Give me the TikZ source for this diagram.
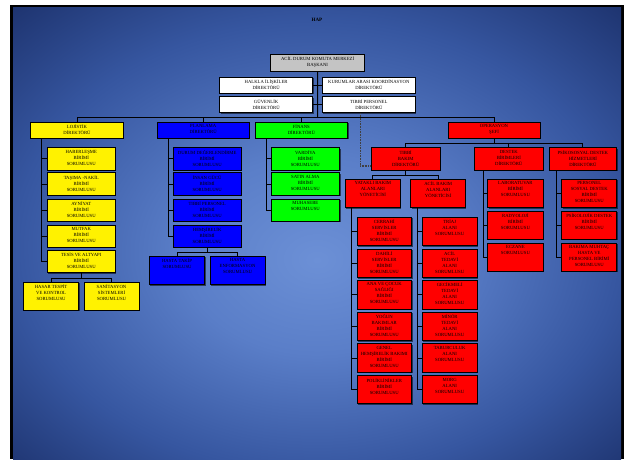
\documentclass[tikz,border=0pt]{standalone}
\usepackage{fontspec}
\setmainfont{Liberation Serif}
\usetikzlibrary{shadows,calc}
\definecolor{bgin}{RGB}{108,144,214}
\definecolor{bgin2}{RGB}{90,126,200}
\definecolor{bgmid}{RGB}{54,86,160}
\definecolor{bgout}{RGB}{30,52,112}
\definecolor{chiefgray}{RGB}{196,196,196}
\pgfdeclareradialshading{bgshade}{\pgfpoint{0bp}{-3bp}}{color(0bp)=(bgin); color(11bp)=(bgin2); color(25bp)=(bgmid); color(36bp)=(bgout); color(50bp)=(bgout)}
\newcommand\obox[7]{%
  \node[bx,#6,minimum width={#4-#2},minimum height={#5-#3}] (#1) at ({(#2+#4)/2},{(#3+#5)/2}) {};
  \node[bt] (#1t) at ([yshift=-2.6pt]#1.north) {#7};}
\begin{document}
\begin{tikzpicture}[x=1pt,y=-1pt,
  bx/.style={draw=black, line width=0.7pt, inner sep=0,
    drop shadow={shadow xshift=0.9pt, shadow yshift=-0.9pt, fill=black, opacity=0.55}},
  bt/.style={font=\fontsize{4.7}{6}\selectfont, align=center, inner sep=0, anchor=north, text=black},
  ln/.style={draw=black, line width=0.9pt},
  dl/.style={draw=black!75, line width=1.1pt, dash pattern=on 1pt off 0.6pt},
  yb/.style={fill=yellow}, bb/.style={fill=blue}, gb/.style={fill=green},
  rb/.style={fill=red}, wb/.style={fill=white}, cb/.style={fill=chiefgray, line width=1.4pt}]
\useasboundingbox (0,0) rectangle (624,459);
\fill[white] (0,0) rectangle (624,459);
\fill[black] (10,4.5) rectangle (624,459);
\shade[shading=bgshade] (13,7) rectangle (621,459);
\node[font=\bfseries\fontsize{5}{6}\selectfont, inner sep=0] (hap) at (317,20) {HAP};
% top
\obox{chief}{270.7}{54.3}{364.5}{71.3}{cb}{ACİL DURUM KOMUTA MERKEZİ\\BAŞKANI}
\obox{hal}{219.6}{77}{312.6}{93.3}{wb}{HALKLA İLİŞKİLER\\DİREKTÖRÜ}
\obox{kur}{322.5}{77}{415.2}{93.3}{wb}{KURUMLAR ARASI KOORDİNASYON\\DİREKTÖRÜ}
\obox{guv}{219.6}{96.7}{312.6}{112.7}{wb}{GÜVENLİK\\DİREKTÖRÜ}
\obox{tpd}{322.5}{96.7}{415.2}{112.7}{wb}{TIBBİ PERSONEL\\DİREKTÖRÜ}
% directors
\obox{loj}{30.7}{122.3}{123.4}{138.3}{yb}{LOJİSTİK\\DİREKTÖRÜ}
\obox{plan}{156.9}{122.3}{249.5}{138.3}{bb}{PLANLAMA\\DİREKTÖRÜ}
\obox{fin}{255}{122.3}{347.7}{138.3}{gb}{FİNANS\\DİREKTÖRÜ}
\obox{op}{447.9}{122.3}{540.1}{138.3}{rb}{OPERASYON\\ŞEFİ}
% yellow
\obox{hab}{47.1}{147.7}{115.4}{170}{yb}{HABERLEŞME\\BİRİMİ\\SORUMLUSU}
\obox{tas}{47.1}{172.7}{115.4}{195.3}{yb}{TAŞIMA -NAKİL\\BİRİMİ\\SORUMLUSU}
\obox{ayn}{47.1}{199}{115.4}{221.3}{yb}{AYNİYAT\\BİRİMİ\\SORUMLUSU}
\obox{mut}{47.1}{225}{115.4}{247}{yb}{MUTFAK\\BİRİMİ\\SORUMLUSU}
\obox{tes}{47.1}{250.3}{115.4}{272.7}{yb}{TESİS VE ALTYAPI\\BİRİMİ\\SORUMLUSU}
\obox{has}{23.6}{282}{78.6}{310.3}{yb}{HASAR TESPİT\\VE KONTROL\\SORUMLUSU}
\obox{san}{84.2}{282}{138.9}{310.3}{yb}{SANİTASYON\\SİSTEMLERİ\\SORUMLUSU}
% blue
\obox{dur}{172.9}{147.7}{241.5}{170}{bb}{DURUM DEĞERLENDİRME\\BİRİMİ\\SORUMLUSU}
\obox{ins}{172.9}{172.7}{241.5}{195.3}{bb}{İNSAN GÜCÜ\\BİRİMİ\\SORUMLUSU}
\obox{tbp}{172.9}{199}{241.5}{221.3}{bb}{TIBBİ PERSONEL\\BİRİMİ\\SORUMLUSU}
\obox{hem}{172.9}{225}{241.5}{247}{bb}{HEMŞİRELİK\\BİRİMİ\\SORUMLUSU}
\obox{hta}{149.3}{256}{204.8}{284.7}{bb}{HASTA TAKİP\\SORUMLUSU}
\obox{hen}{210}{256}{265.1}{284.7}{bb}{HASTA\\ENFORMASYON\\SORUMLUSU}
% green
\obox{var}{271}{147.7}{339.7}{170}{gb}{VARDİYA\\BİRİMİ\\SORUMLUSU}
\obox{sat}{271}{172.7}{339.7}{195.3}{gb}{SATIN ALMA\\BİRİMİ\\SORUMLUSU}
\obox{muh}{271}{199}{339.7}{221.3}{gb}{MUHASEBE\\SORUMLUSU}
% red
\obox{tbd}{371.3}{147.7}{440}{170.3}{rb}{TIBBİ\\BAKIM\\DİREKTÖRÜ}
\obox{des}{474.6}{147.7}{543}{170.3}{rb}{DESTEK\\BİRİMLERİ\\DİREKTÖRÜ}
\obox{psi}{548.9}{147.7}{616.8}{170.3}{rb}{PSİKOSOSYAL DESTEK\\HİZMETLERİ\\DİREKTÖRÜ}
\obox{yat}{345.3}{179.3}{400.4}{207.7}{rb}{YATAKLI BAKIM\\ALANLARI\\YÖNETİCİSİ}
\obox{acb}{410.8}{179.3}{465.5}{207.7}{rb}{ACİL BAKIM\\ALANLARI\\YÖNETİCİSİ}
\obox{cer}{356.9}{217.3}{411.6}{245.7}{rb}{CERRAHİ\\SERVİSLER\\BİRİMİ\\SORUMLUSU}
\obox{dah}{356.9}{249}{411.6}{277.7}{rb}{DAHİLİ\\SERVİSLER\\BİRİMİ\\SORUMLUSU}
\obox{ana}{356.9}{280.3}{411.6}{309.3}{rb}{ANA VE ÇOCUK\\SAĞLIĞI\\BİRİMİ\\SORUMLUSU}
\obox{yog}{356.9}{312.3}{411.6}{340.7}{rb}{YOĞUN\\BAKIMLAR\\BİRİMİ\\SORUMLUSU}
\obox{gen}{356.9}{343.7}{411.6}{372.3}{rb}{GENEL\\HEMŞİRELİK BAKIMI\\BİRİMİ\\SORUMLUSU}
\obox{pol}{356.9}{375.7}{411.6}{403.7}{rb}{POLİKLİNİKLER\\BİRİMİ\\SORUMLUSU}
\obox{tri}{422.4}{217.3}{477}{245.7}{rb}{TRİAJ\\ALANI\\SORUMLUSU}
\obox{act}{422.4}{249}{477}{277.7}{rb}{ACİL\\TEDAVİ\\ALANI\\SORUMLUSU}
\obox{gec}{422.4}{280.3}{477}{309.3}{rb}{GECİKMELİ\\TEDAVİ\\ALANI\\SORUMLUSU}
\obox{min}{422.4}{312.3}{477}{340.7}{rb}{MİNÖR\\TEDAVİ\\ALANI\\SORUMLUSU}
\obox{tab}{422.4}{343.7}{477}{372.3}{rb}{TABURCULUK\\ALANI\\SORUMLUSU}
\obox{mor}{422.4}{375.7}{477}{403.7}{rb}{MORG\\ALANI\\SORUMLUSU}
\obox{lab}{487.8}{179.3}{543}{207.7}{rb}{LABORATUVAR\\BİRİMİ\\SORUMLUSU}
\obox{rad}{487.8}{211.3}{543}{239.3}{rb}{RADYOLOJİ\\BİRİMİ\\SORUMLUSU}
\obox{ecz}{487.8}{243}{543}{271}{rb}{ECZANE\\SORUMLUSU}
\obox{pso}{561.7}{179.3}{616.8}{207.7}{rb}{PERSONEL\\SOSYAL DESTEK\\BİRİMİ\\SORUMLUSU}
\obox{psk}{561.7}{211.3}{616.8}{239.3}{rb}{PSİKOLOJİK DESTEK\\BİRİMİ\\SORUMLUSU}
\obox{bak}{561.7}{243}{616.8}{271}{rb}{BAKIMA MUHTAÇ\\HASTA VE\\PERSONEL BİRİMİ\\SORUMLUSU}
% connectors
\coordinate (topbus) at (317.6,117.3);
\draw[ln] (chief.south) -- (topbus);
\draw[ln] (hal.east) -- (kur.west);
\draw[ln] (guv.east) -- (tpd.west);
\draw[ln] (loj.north) -- (loj.north |- topbus) -| (op.north);
\draw[ln] (plan.north) -- (plan.north |- topbus);
\draw[ln] (fin.north) -- (fin.north |- topbus);
\draw[dl] ([xshift=-8.8pt]tpd.south) |- ([yshift=-7pt]tbd.west);
\coordinate (lojv) at (41.9,138.3);
\foreach \c in {hab,tas,ayn,mut,tes} \draw[ln] (lojv) |- (\c.west);
\draw[ln] (tes.south) -- ++(0,5) coordinate (tesbus);
\draw[ln] (has.north) |- (tesbus) -| (san.north);
\coordinate (planv) at (168,138.3);
\foreach \c in {dur,ins,tbp,hem} \draw[ln] (planv) |- (\c.west);
\draw[ln] (hem.south) -- ++(0,4.7) coordinate (hembus);
\draw[ln] (hta.north) |- (hembus) -| (hen.north);
\coordinate (finv) at (266.3,138.3);
\foreach \c in {var,sat,muh} \draw[ln] (finv) |- (\c.west);
\draw[ln] (op.south) -- ++(0,5) coordinate (opbus);
\draw[ln] (tbd.north) |- (opbus) -| (psi.north);
\draw[ln] (des.north) -- (des.north |- opbus);
\draw[ln] (tbd.south) -- ++(0,4.7) coordinate (tbdbus);
\draw[ln] (yat.north) |- (tbdbus) -| (acb.north);
\coordinate (yatv) at (351.7,207.7);
\foreach \c in {cer,dah,ana,yog,gen,pol} \draw[ln] (yatv) |- (\c.west);
\coordinate (acbv) at (417.2,207.7);
\foreach \c in {tri,act,gec,min,tab,mor} \draw[ln] (acbv) |- (\c.west);
\coordinate (desv) at (483,170.3);
\foreach \c in {lab,rad,ecz} \draw[ln] (desv) |- (\c.west);
\coordinate (psiv) at (556.9,170.3);
\foreach \c in {pso,psk,bak} \draw[ln] (psiv) |- (\c.west);
\end{tikzpicture}
\end{document}
